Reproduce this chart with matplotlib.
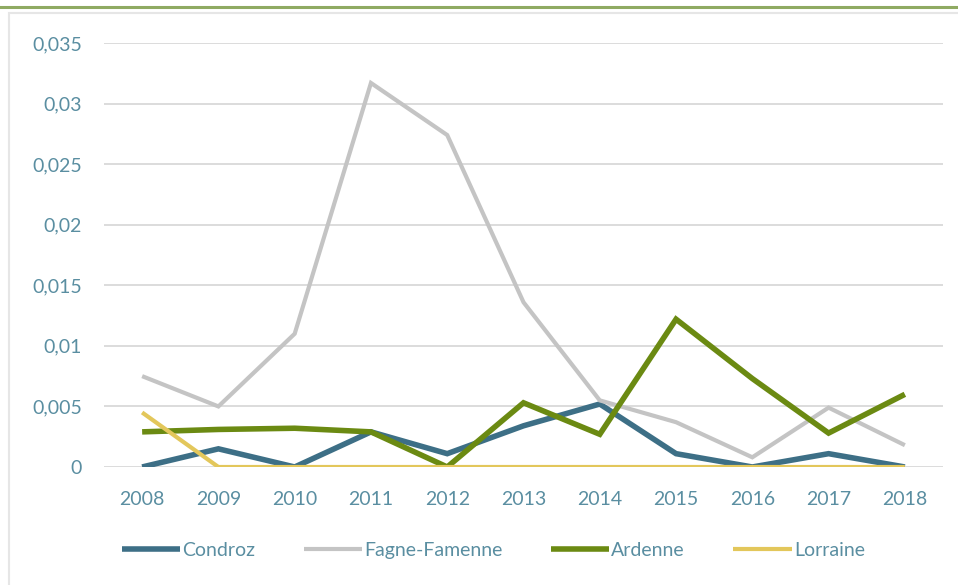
import matplotlib
matplotlib.use("Agg")
import matplotlib.pyplot as plt
from matplotlib.ticker import FuncFormatter, MultipleLocator
from matplotlib.patches import Rectangle
from matplotlib.lines import Line2D

# __ data __
years = ["2008", "2009", "2010", "2011", "2012", "2013", "2014", "2015", "2016", "2017", "2018"]
condroz = [0.0, 0.0015, 0.0, 0.0029, 0.0011, 0.0034, 0.0052, 0.0011, 0.0, 0.0011, 0.0]
fagne_famenne = [0.0075, 0.0050, 0.0110, 0.0317, 0.0274, 0.0136, 0.0055, 0.0037, 0.0008, 0.0049, 0.0018]
ardenne = [0.0029, 0.0031, 0.0032, 0.0029, 0.0, 0.0053, 0.0027, 0.0122, 0.0073, 0.0028, 0.0060]
lorraine = [0.0045, 0.0, 0.0, 0.0, 0.0, 0.0, 0.0, 0.0, 0.0, 0.0, 0.0]

series = [
    ("Condroz", condroz, "#3d6f86", 4.0),
    ("Fagne-Famenne", fagne_famenne, "#c4c4c4", 3.0),
    ("Ardenne", ardenne, "#6b8a12", 4.0),
    ("Lorraine", lorraine, "#e3c75b", 3.0),
]

label_color = "#5a8ea1"
plt.rcParams['font.family'] = ['Lato', 'DejaVu Sans']

fig = plt.figure(figsize=(9.58, 5.85), dpi=100)

# __ frame: green rule on top and light grey box __
fig.add_artist(Line2D([0, 1], [1 - 6.5 / 585, 1 - 6.5 / 585], transform=fig.transFigure,
                      color="#8faa62", lw=2.2))
fig.add_artist(Rectangle((9 / 958, -0.05), 1.1, 1 - 13 / 585 + 0.05, transform=fig.transFigure,
                         fill=False, edgecolor="#e6e6e6", lw=1.5))

ax = fig.add_axes([104 / 958, 1 - 467 / 585, (943 - 104) / 958, (467 - 43) / 585])

x = list(range(len(years)))
for name, vals, color, lw in series:
    ax.plot(x, vals, color=color, lw=lw, label=name, solid_joinstyle="miter", solid_capstyle="butt")

ax.set_xlim(-0.5, len(years) - 0.5)
ax.set_ylim(0, 0.035)
ax.yaxis.set_major_locator(MultipleLocator(0.005))
ax.yaxis.set_major_formatter(FuncFormatter(lambda v, p: f"{round(v, 4):g}".replace(".", ",")))
ax.set_xticks(x)
ax.set_xticklabels(years)

ax.grid(axis="y", color="#dcdcdc", lw=1.4)
ax.set_axisbelow(True)
for s in ax.spines.values():
    s.set_visible(False)
ax.tick_params(length=0, labelsize=14, colors=label_color, pad=16)
ax.tick_params(axis="x", pad=17)

leg = ax.legend(loc="upper center", bbox_to_anchor=(0.464, -0.135), ncol=4, frameon=False,
                fontsize=14, handlelength=3.0, handletextpad=0.1, columnspacing=2.5)
for t in leg.get_texts():
    t.set_color(label_color)

fig.savefig("out.png", dpi=100)
